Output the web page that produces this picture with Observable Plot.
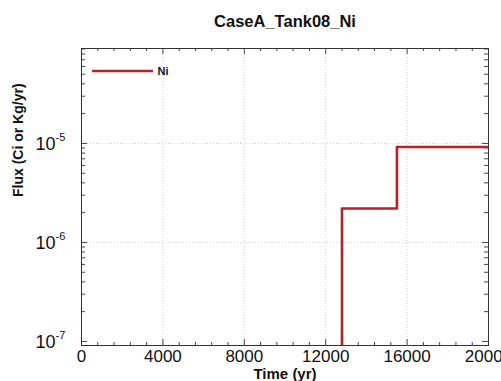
<!DOCTYPE html>
<html>
<head>
<meta charset="utf-8">
<script src="https://cdn.jsdelivr.net/npm/d3@7"></script>
<script src="https://cdn.jsdelivr.net/npm/@observablehq/plot@0.6"></script>
<style>
  body { margin: 0; background: #fff; }
  #chart svg { font-family: "Liberation Sans", Arial, sans-serif; }
</style>
</head>
<body>
<div id="chart"></div>
<script>
// ---- data ----
const chartTitle = "CaseA_Tank08_Ni";
const seriesName = "Ni";
const timeYr = [0, 12800, 15500, 20000];
const fluxNi = [1e-30, 2.2e-6, 9.2e-6, 9.2e-6]; // 1e-30 stands for zero (below axis)
const xTickValues = [0, 4000, 8000, 12000, 16000, 20000];
const xTickLabels = ["0", "4000", "8000", "12000", "16000", "20000"];
const yTickValues = [1e-7, 1e-6, 1e-5];
const yTickExps = ["-7", "-6", "-5"];
const xDomain = [0, 20000];
const yDomain = [9.1e-8, 9.1e-5];

const W = 501, H = 381;
const mL = 81, mR = 13, mT = 48, mB = 36;
const fw = W - mL - mR, fh = H - mT - mB;

const data = timeYr.map((t, i) => ({t, f: fluxNi[i]}));
const xMinor = d3.range(0, 20001, 800).filter(v => !xTickValues.includes(v));
const yMinor = [];
for (let e = -8; e <= -5; e++) for (let m = 2; m <= 9; m++) {
  const v = m * Math.pow(10, e);
  if (v >= yDomain[0] && v <= yDomain[1]) yMinor.push(v);
}
const gridX = xTickValues.filter(v => v > xDomain[0] && v < xDomain[1]);
const gridY = yTickValues.filter(v => v > yDomain[0] * 1.1 && v < yDomain[1]);
const red = "#b8202a", tickC = "#444";

const plot = Plot.plot({
  width: W, height: H,
  marginLeft: mL, marginRight: mR, marginTop: mT, marginBottom: mB,
  style: {fontFamily: "Liberation Sans, Arial, sans-serif", background: "#fff"},
  x: {domain: xDomain, axis: null},
  y: {type: "log", domain: yDomain, axis: null},
  marks: [
    // grid
    Plot.ruleX(gridX, {x: d => d, stroke: "#c4c4c4", strokeDasharray: "1,2", strokeWidth: 0.8}),
    Plot.ruleY(gridY, {y: d => d, stroke: "#c4c4c4", strokeDasharray: "1,2", strokeWidth: 0.8}),
    // inward ticks, x
    Plot.ruleX(xTickValues, {x: d => d, insetTop: fh - 6, stroke: tickC}),
    Plot.ruleX(xTickValues, {x: d => d, insetBottom: fh - 6, stroke: tickC}),
    Plot.ruleX(xMinor, {x: d => d, insetTop: fh - 3, stroke: tickC}),
    Plot.ruleX(xMinor, {x: d => d, insetBottom: fh - 3, stroke: tickC}),
    // inward ticks, y
    Plot.ruleY(yTickValues, {y: d => d, insetRight: fw - 6, stroke: tickC}),
    Plot.ruleY(yTickValues, {y: d => d, insetLeft: fw - 6, stroke: tickC}),
    Plot.ruleY(yMinor, {y: d => d, insetRight: fw - 4, stroke: tickC}),
    Plot.ruleY(yMinor, {y: d => d, insetLeft: fw - 4, stroke: tickC}),
    // data
    Plot.line(data, {x: "t", y: "f", curve: "step-after", stroke: red, strokeWidth: 2.6, clip: true}),
    Plot.frame({stroke: "#333", strokeWidth: 1}),
    // x tick labels
    Plot.text(xTickValues, {x: d => d, text: (d, i) => xTickLabels[i], frameAnchor: "bottom",
      lineAnchor: "top", dy: 4, fontSize: 17, fill: "#111"}),
    // y tick labels
    Plot.text(yTickValues, {y: d => d, text: () => "10", frameAnchor: "left", textAnchor: "end",
      dx: -26, dy: 1, fontSize: 18, fill: "#111"}),
    Plot.text(yTickValues, {y: d => d, text: (d, i) => yTickExps[i], frameAnchor: "left", textAnchor: "start",
      dx: -26, dy: -6, fontSize: 11, fill: "#111"}),
    // titles
    Plot.text([chartTitle], {text: d => d, frameAnchor: "top", lineAnchor: "middle", dy: -27,
      fontSize: 16.5, fontWeight: "bold", fill: "#111"}),
    Plot.text(["Time (yr)"], {text: d => d, frameAnchor: "bottom", lineAnchor: "middle", dy: 29,
      fontSize: 15, fontWeight: "bold", fill: "#111"}),
    Plot.text(["Flux (Ci or Kg/yr)"], {text: d => d, frameAnchor: "left", lineAnchor: "middle", dx: -63,
      rotate: -90, fontSize: 14, fontWeight: "bold", fill: "#111"})
  ]
});

// legend
const svg = d3.select(plot);
const lg = svg.append("g");
lg.append("line").attr("x1", mL + 11).attr("x2", mL + 72).attr("y1", mT + 23).attr("y2", mT + 23)
  .attr("stroke", red).attr("stroke-width", 2.6);
lg.append("text").attr("x", mL + 82).attr("y", mT + 23).attr("dy", "0.35em")
  .attr("font-size", 11).attr("font-weight", "bold").attr("fill", "#111").text(seriesName);

document.getElementById("chart").appendChild(plot);
</script>
</body>
</html>
